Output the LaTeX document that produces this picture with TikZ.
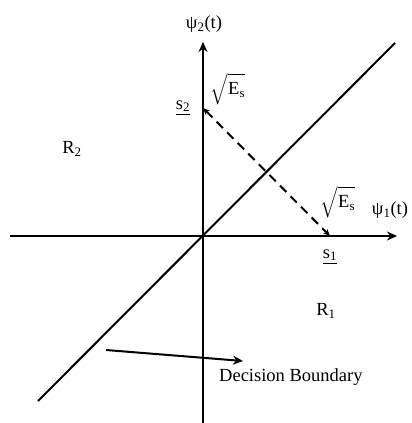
\documentclass[tikz,border=0pt]{standalone}
\usepackage{amsmath}
\usepackage{fontspec}
\setmainfont{Liberation Serif}
\usetikzlibrary{arrows.meta}

\begin{document}
\begin{tikzpicture}[x=1pt,y=-1pt,
    axisline/.style={line width=2pt, -{Stealth[length=10pt,width=9pt]}},
    lbl/.style={inner sep=0pt, font=\fontsize{18.5}{22}\selectfont}]
                    \useasboundingbox (0,0) rectangle (412,423);
                    % Nodes
                    \coordinate (O) at (203,236);
                    \coordinate (xl) at (10,236);
                    \coordinate (xr) at (397,236);
                    \coordinate (yb) at (203,423);
                    \coordinate (yt) at (203,42);
                    \coordinate (bl) at (38,401);
                    \coordinate (br) at (395,43);
                    \coordinate (s1) at (330,236);
                    \coordinate (s2) at (203,108);
                    \coordinate (da) at (106,350);
                    \coordinate (db) at (243,361);
                    \node[lbl] (psi2) at (204,24) {ψ\textsubscript{2}(t)};
                    \node[lbl] (psi1) at (390,210) {ψ\textsubscript{1}(t)};
                    \node[lbl] (e2) at (228,89) {$\sqrt{\text{E}_\text{s}\vphantom{\big|}}$};
                    \node[lbl] (e1) at (338,202) {$\sqrt{\text{E}_\text{s}\vphantom{\big|}}$};
                    \node[lbl] (l2) at (183,108) {\underline{s\textsubscript{2}}};
                    \node[lbl] (l1) at (330,257) {\underline{s\textsubscript{1}}};
                    \node[lbl] (R2) at (72,149) {R\textsubscript{2}};
                    \node[lbl] (R1) at (326,311) {R\textsubscript{1}};
                    \node[lbl, anchor=west] (db-text) at (219,377) {Decision Boundary};
                    % Edges
                    \draw[axisline] (xl) -- (xr);
                    \draw[axisline] (yb) -- (yt);
                    \draw[line width=2pt] (bl) -- (br);
                    \draw[line width=2pt, dash pattern=on 9pt off 6pt,
                          {Stealth[length=7pt,width=6pt]}-{Stealth[length=7pt,width=6pt]}] (s2) -- (s1);
                    \draw[line width=2pt, -{Stealth[length=10pt,width=9pt]}] (da) -- (db);
                \end{tikzpicture}
\end{document}
